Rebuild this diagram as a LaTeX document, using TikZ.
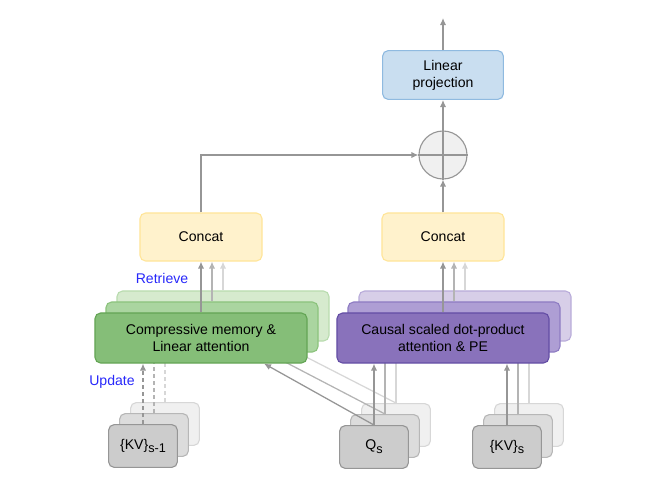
\documentclass[tikz,border=0pt]{standalone}
\usepackage{fontspec}
\setmainfont{Liberation Sans}
\usetikzlibrary{arrows.meta,calc}
\definecolor{projfill}{RGB}{201,222,240}
\definecolor{projln}{RGB}{143,186,224}
\definecolor{catfill}{RGB}{255,242,204}
\definecolor{catln}{RGB}{255,229,153}
\definecolor{memA}{RGB}{133,190,120}
\definecolor{memB}{RGB}{170,213,160}
\definecolor{memC}{RGB}{214,234,206}
\definecolor{memlnA}{RGB}{100,165,85}
\definecolor{memlnB}{RGB}{140,195,125}
\definecolor{memlnC}{RGB}{185,220,175}
\definecolor{attA}{RGB}{137,114,187}
\definecolor{attB}{RGB}{174,158,212}
\definecolor{attC}{RGB}{215,206,232}
\definecolor{attlnA}{RGB}{100,78,165}
\definecolor{attlnB}{RGB}{142,124,195}
\definecolor{attlnC}{RGB}{185,172,218}
\definecolor{inA}{RGB}{204,204,204}
\definecolor{inB}{RGB}{220,220,220}
\definecolor{inC}{RGB}{240,240,240}
\definecolor{inlnA}{RGB}{150,150,150}
\definecolor{inlnB}{RGB}{183,183,183}
\definecolor{inlnC}{RGB}{215,215,215}
\definecolor{arrA}{RGB}{150,150,150}
\definecolor{arrB}{RGB}{180,180,180}
\definecolor{arrC}{RGB}{215,215,215}
\definecolor{lblblue}{RGB}{40,40,250}
\newcommand{\lowsub}[1]{\raisebox{-0.5ex}{\fontsize{9}{9}\selectfont #1}}

\begin{document}
\begin{tikzpicture}[x=0.025cm,y=-0.025cm,
  box/.style={rounded corners=4pt,line width=0.8pt,align=center,inner sep=0pt,
    font=\fontsize{10}{12}\selectfont},
  projbox/.style={box,fill=projfill,draw=projln,minimum width=3.02cm,minimum height=1.22cm},
  catbox/.style={box,fill=catfill,draw=catln,minimum width=3.05cm,minimum height=1.2cm},
  wide/.style={box,minimum width=5.3cm,minimum height=1.25cm},
  inbox/.style={box,minimum width=1.72cm,minimum height=1.07cm},
  link/.style={line width=0.9pt},
  tip/.style={-{Latex[length=5pt,width=4.5pt]}},
  dash2/.style={dash pattern=on 3pt off 2pt},
  lbl/.style={text=lblblue,font=\fontsize{10}{12}\selectfont}]
\useasboundingbox (0,0) rectangle (665,487);

% output side
\node[projbox] (proj) at (443,75) {Linear\\projection};
\coordinate (out) at (443,18);
\node[circle,draw=arrA,fill=inC,line width=0.8pt,minimum size=1.2cm,inner sep=0pt] (plus) at (443,155) {};
\draw[arrA,line width=0.8pt] (plus.north) -- (plus.south) (plus.west) -- (plus.east);
\node[catbox] (catL) at (201,237) {Concat};
\node[catbox] (catR) at (443,237) {Concat};
\draw[link,arrA,tip] (proj.north) -- (out);
\draw[link,arrA,tip] (plus.north) -- (proj.south);
\draw[link,arrA,tip] (catR.north) -- (plus.south);
\draw[link,arrA,tip] (catL.north) |- (plus.west);

% back layers of the stacks
\foreach \k/\c/\d in {2/C/53,1/B/55}{
  \node[wide,fill=mem\c,draw=memln\c] (mem\k) at (201+11*\k,338-11*\k) {};
  \node[wide,fill=att\c,draw=attln\c] (att\k) at (443+11*\k,338-11*\k) {};
  \node[inbox,fill=in\c,draw=inln\c] (kvp\k) at (143+11*\k,446-11*\k) {};
  \node[inbox,fill=in\c,draw=inln\c] (q\k) at (374+11*\k,447-11*\k) {};
  \node[inbox,fill=in\c,draw=inln\c] (kv\k) at (507+11*\k,447-11*\k) {};
  \draw[link,arr\c,tip] (mem\k.north) -- (mem\k.north |- catL.south);
  \draw[link,arr\c,tip] (att\k.north) -- (att\k.north |- catR.south);
  \draw[link,arr\c,dash2] (kvp\k.north) -- (kvp\k.north |- mem\k.south);
  \draw[link,arr\c] (q\k.north) -- (q\k.north |- att\k.south);
  \draw[link,arr\c] (kv\k.north) -- (kv\k.north |- att\k.south);
  \draw[link,arr\c] (q\k.north) -- ($(mem\k.south)+(\d,0)$);
}

% front layer
\node[wide,fill=memA,draw=memlnA] (mem0) at (201,338) {Compressive memory \&\\Linear attention};
\node[wide,fill=attA,draw=attlnA] (att0) at (443,338) {Causal scaled dot-product\\attention \& PE};
\node[inbox,fill=inA,draw=inlnA] (kvp0) at (143,446) {\{KV\}\lowsub{s-1}};
\node[inbox,fill=inA,draw=inlnA] (q0) at (374,447) {Q\lowsub{s}};
\node[inbox,fill=inA,draw=inlnA] (kv0) at (507,447) {\{KV\}\lowsub{s}};
\draw[link,arrA,tip] (mem0.north) -- (catL.south);
\draw[link,arrA,tip] (att0.north) -- (catR.south);
\draw[link,arrA,dash2,tip] (kvp0.north) -- (kvp0.north |- mem0.south);
\draw[link,arrA,tip] (q0.north) -- (q0.north |- att0.south);
\draw[link,arrA,tip] (kv0.north) -- (kv0.north |- att0.south);
\draw[link,arrA,tip] (q0.north) -- ($(mem0.south)+(63,0)$);

\node[lbl] (retrieve) at (162,278) {Retrieve};
\node[lbl] (update) at (112,382) {Update};
\end{tikzpicture}
\end{document}
